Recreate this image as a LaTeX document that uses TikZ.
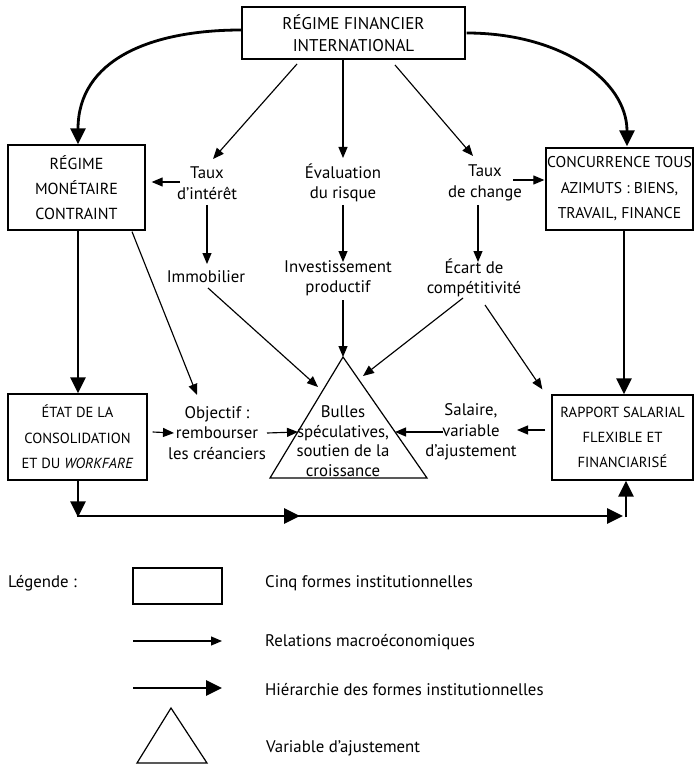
\documentclass[tikz,border=0pt]{standalone}
\usepackage{fontspec}
\setmainfont{PT Sans}
\usetikzlibrary{arrows.meta,calc}
\begin{document}
\begin{tikzpicture}[x=1pt,y=-1pt,
  inst/.style={draw,line width=1.3pt,rectangle,inner sep=0pt,align=center,
    font=\fontsize{16}{25}\selectfont},
  lbl/.style={align=center,inner sep=0pt,font=\fontsize{16.8}{20.5}\selectfont},
  rel/.style={line width=1.15pt,-{Triangle[length=11pt,width=9pt]}},
  hier/.style={line width=2.8pt,-{Triangle[length=16pt,width=15pt]}},
]
\useasboundingbox (0,0) rectangle (697,767);

% institutional forms
\node[inst,minimum width=223pt,minimum height=52pt,font=\fontsize{17}{22}\selectfont]
  (top) at (353.5,33) {RÉGIME FINANCIER\\INTERNATIONAL};
\node[inst,minimum width=137pt,minimum height=85pt] (mon) at (76.5,187.5)
  {RÉGIME\\MONÉTAIRE\\CONTRAINT};
\node[inst,minimum width=147pt,minimum height=82pt,font=\fontsize{15.6}{25.5}\selectfont] (conc) at (619.5,189)
  {CONCURRENCE TOUS\\AZIMUTS : BIENS,\\TRAVAIL, FINANCE};
\node[inst,minimum width=139pt,minimum height=86pt,font=\fontsize{14.6}{25.5}\selectfont] (etat) at (77.5,437)
  {ÉTAT DE LA\\CONSOLIDATION\\ET DU \textit{WORKFARE}};
\node[inst,minimum width=141pt,minimum height=85pt,font=\fontsize{14.6}{25}\selectfont] (rap) at (622.5,437.5)
  {RAPPORT SALARIAL\\FLEXIBLE ET\\FINANCIARISÉ};

% macroeconomic variables
\node[lbl] (tauxi) at (207,183) {Taux\\d’intérêt};
\node[lbl] (eval) at (343,183) {Évaluation\\du risque};
\node[lbl] (tauxc) at (485,183) {Taux\\de change};
\node[lbl] (immo) at (206,277) {Immobilier};
\node[lbl] (invest) at (338,278) {Investissement\\productif};
\node[lbl] (ecart) at (474,278) {Écart de\\compétitivité};
\node[lbl] (obj) at (217,433) {Objectif :\\rembourser\\les créanciers};
\node[lbl] (sal) at (471,432) {Salaire,\\variable\\d’ajustement};

% adjustment variable
\coordinate (apex) at (343,357);
\coordinate (tbl) at (270,478);
\coordinate (tbr) at (427,478);
\draw[line width=1.2pt,line join=miter] (apex) -- (tbl) -- (tbr) -- cycle;
\node[lbl,font=\fontsize{16.8}{19.5}\selectfont] (bulles) at (343,441)
  {Bulles\\spéculatives,\\soutien de la\\croissance};

% hierarchy between institutional forms
\draw[hier] ([shift={(0,-3)}]top.west) .. controls (150,30) and (78,60) .. ([shift={(1.5,0)}]mon.north);
\draw[hier] ([shift={(1,0)}]top.east) .. controls (560,33) and (627,80) .. ([shift={(7.5,-1)}]conc.north);
\draw[hier] ([shift={(1.5,0)}]mon.south) -- ([shift={(0.5,0)}]etat.north);
\draw[hier] ([shift={(4.5,0)}]conc.south) -- ([shift={(1.5,0)}]rap.north);
\coordinate (bl) at (78,516);
\coordinate (bm) at (300,516);
\coordinate (br) at (626,516);
\draw[hier] ([shift={(0.5,0)}]etat.south) -- ([shift={(0,1.4)}]bl);
\draw[line width=2.8pt] ([shift={(-1.4,0)}]bl) -- (bm);
\draw[hier] ([shift={(-5,0)}]bm) -- (bm);
\draw[hier] (bm) -- ([shift={(-3,0)}]br);
\draw[hier] ([shift={(0,1.4)}]br) -- ([shift={(3.5,0)}]rap.south);

% macroeconomic relations
\draw[rel] ([shift={(-56.5,31)}]top.center) -- ([shift={(6,-24)}]tauxi.center);
\draw[rel] ([shift={(-10.5,27)}]top.center) -- ([shift={(0,-25)}]eval.center);
\draw[rel] ([shift={(41.5,32)}]top.center) -- ([shift={(-12,-27)}]tauxc.center);
\draw[rel] ([shift={(-27,-1)}]tauxi.center) -- ([shift={(6,-5.5)}]mon.east);
\draw[rel] ([shift={(28,-3)}]tauxc.center) -- ([shift={(-1,-9)}]conc.west);
\draw[rel] ([shift={(0,22)}]tauxi.center) -- ([shift={(1,-13)}]immo.center);
\draw[rel] ([shift={(0,22)}]eval.center) -- ([shift={(5,-16)}]invest.center);
\draw[rel] ([shift={(-7,22)}]tauxc.center) -- ([shift={(4,-16)}]ecart.center);
\draw[rel] ([shift={(2,11)}]immo.center) -- ([shift={(-25,30)}]apex);
\draw[rel] ([shift={(5,22)}]invest.center) -- (apex);
\draw[rel] ([shift={(-11,20)}]ecart.center) -- ([shift={(20,19)}]apex);
\draw[rel] ([shift={(11,27)}]ecart.center) -- ([shift={(-9,-5)}]rap.north west);
\draw[rel] ([shift={(55.5,1)}]mon.south) -- ([shift={(-20,-38)}]obj.center);
\draw[rel] ([shift={(5,-5)}]etat.east) -- ([shift={(-43,0)}]obj.center);
\draw[rel] ([shift={(50,0)}]obj.center) -- ([shift={(-45,-9)}]bulles.center);
\draw[rel] ([shift={(-28,0)}]sal.center) -- ([shift={(52,-9)}]bulles.center);
\draw[rel] ([shift={(-6,-7.5)}]rap.west) -- ([shift={(46,-2)}]sal.center);

% legend
\node[lbl,anchor=west] (legtitle) at (8,583) {Légende :};
\node[draw,line width=1.2pt,minimum width=89pt,minimum height=36pt,inner sep=0pt] (legbox) at (177.5,586) {};
\node[lbl,anchor=west] (legbox-t) at (265,583) {Cinq formes institutionnelles};
\coordinate (lr1) at (133,641);
\coordinate (lr2) at (222,641);
\draw[rel] (lr1) -- (lr2);
\node[lbl,anchor=west] (legrel-t) at (265,642) {Relations macroéconomiques};
\coordinate (lh1) at (133,688);
\coordinate (lh2) at (222,688);
\draw[hier] (lh1) -- (lh2);
\node[lbl,anchor=west] (leghier-t) at (265,690) {Hiérarchie des formes institutionnelles};
\draw[line width=1.2pt,line join=miter] (171,708) -- (137,763) -- (207,763) -- cycle;
\node[lbl,anchor=west] (legtri-t) at (266,748) {Variable d’ajustement};
\end{tikzpicture}
\end{document}
